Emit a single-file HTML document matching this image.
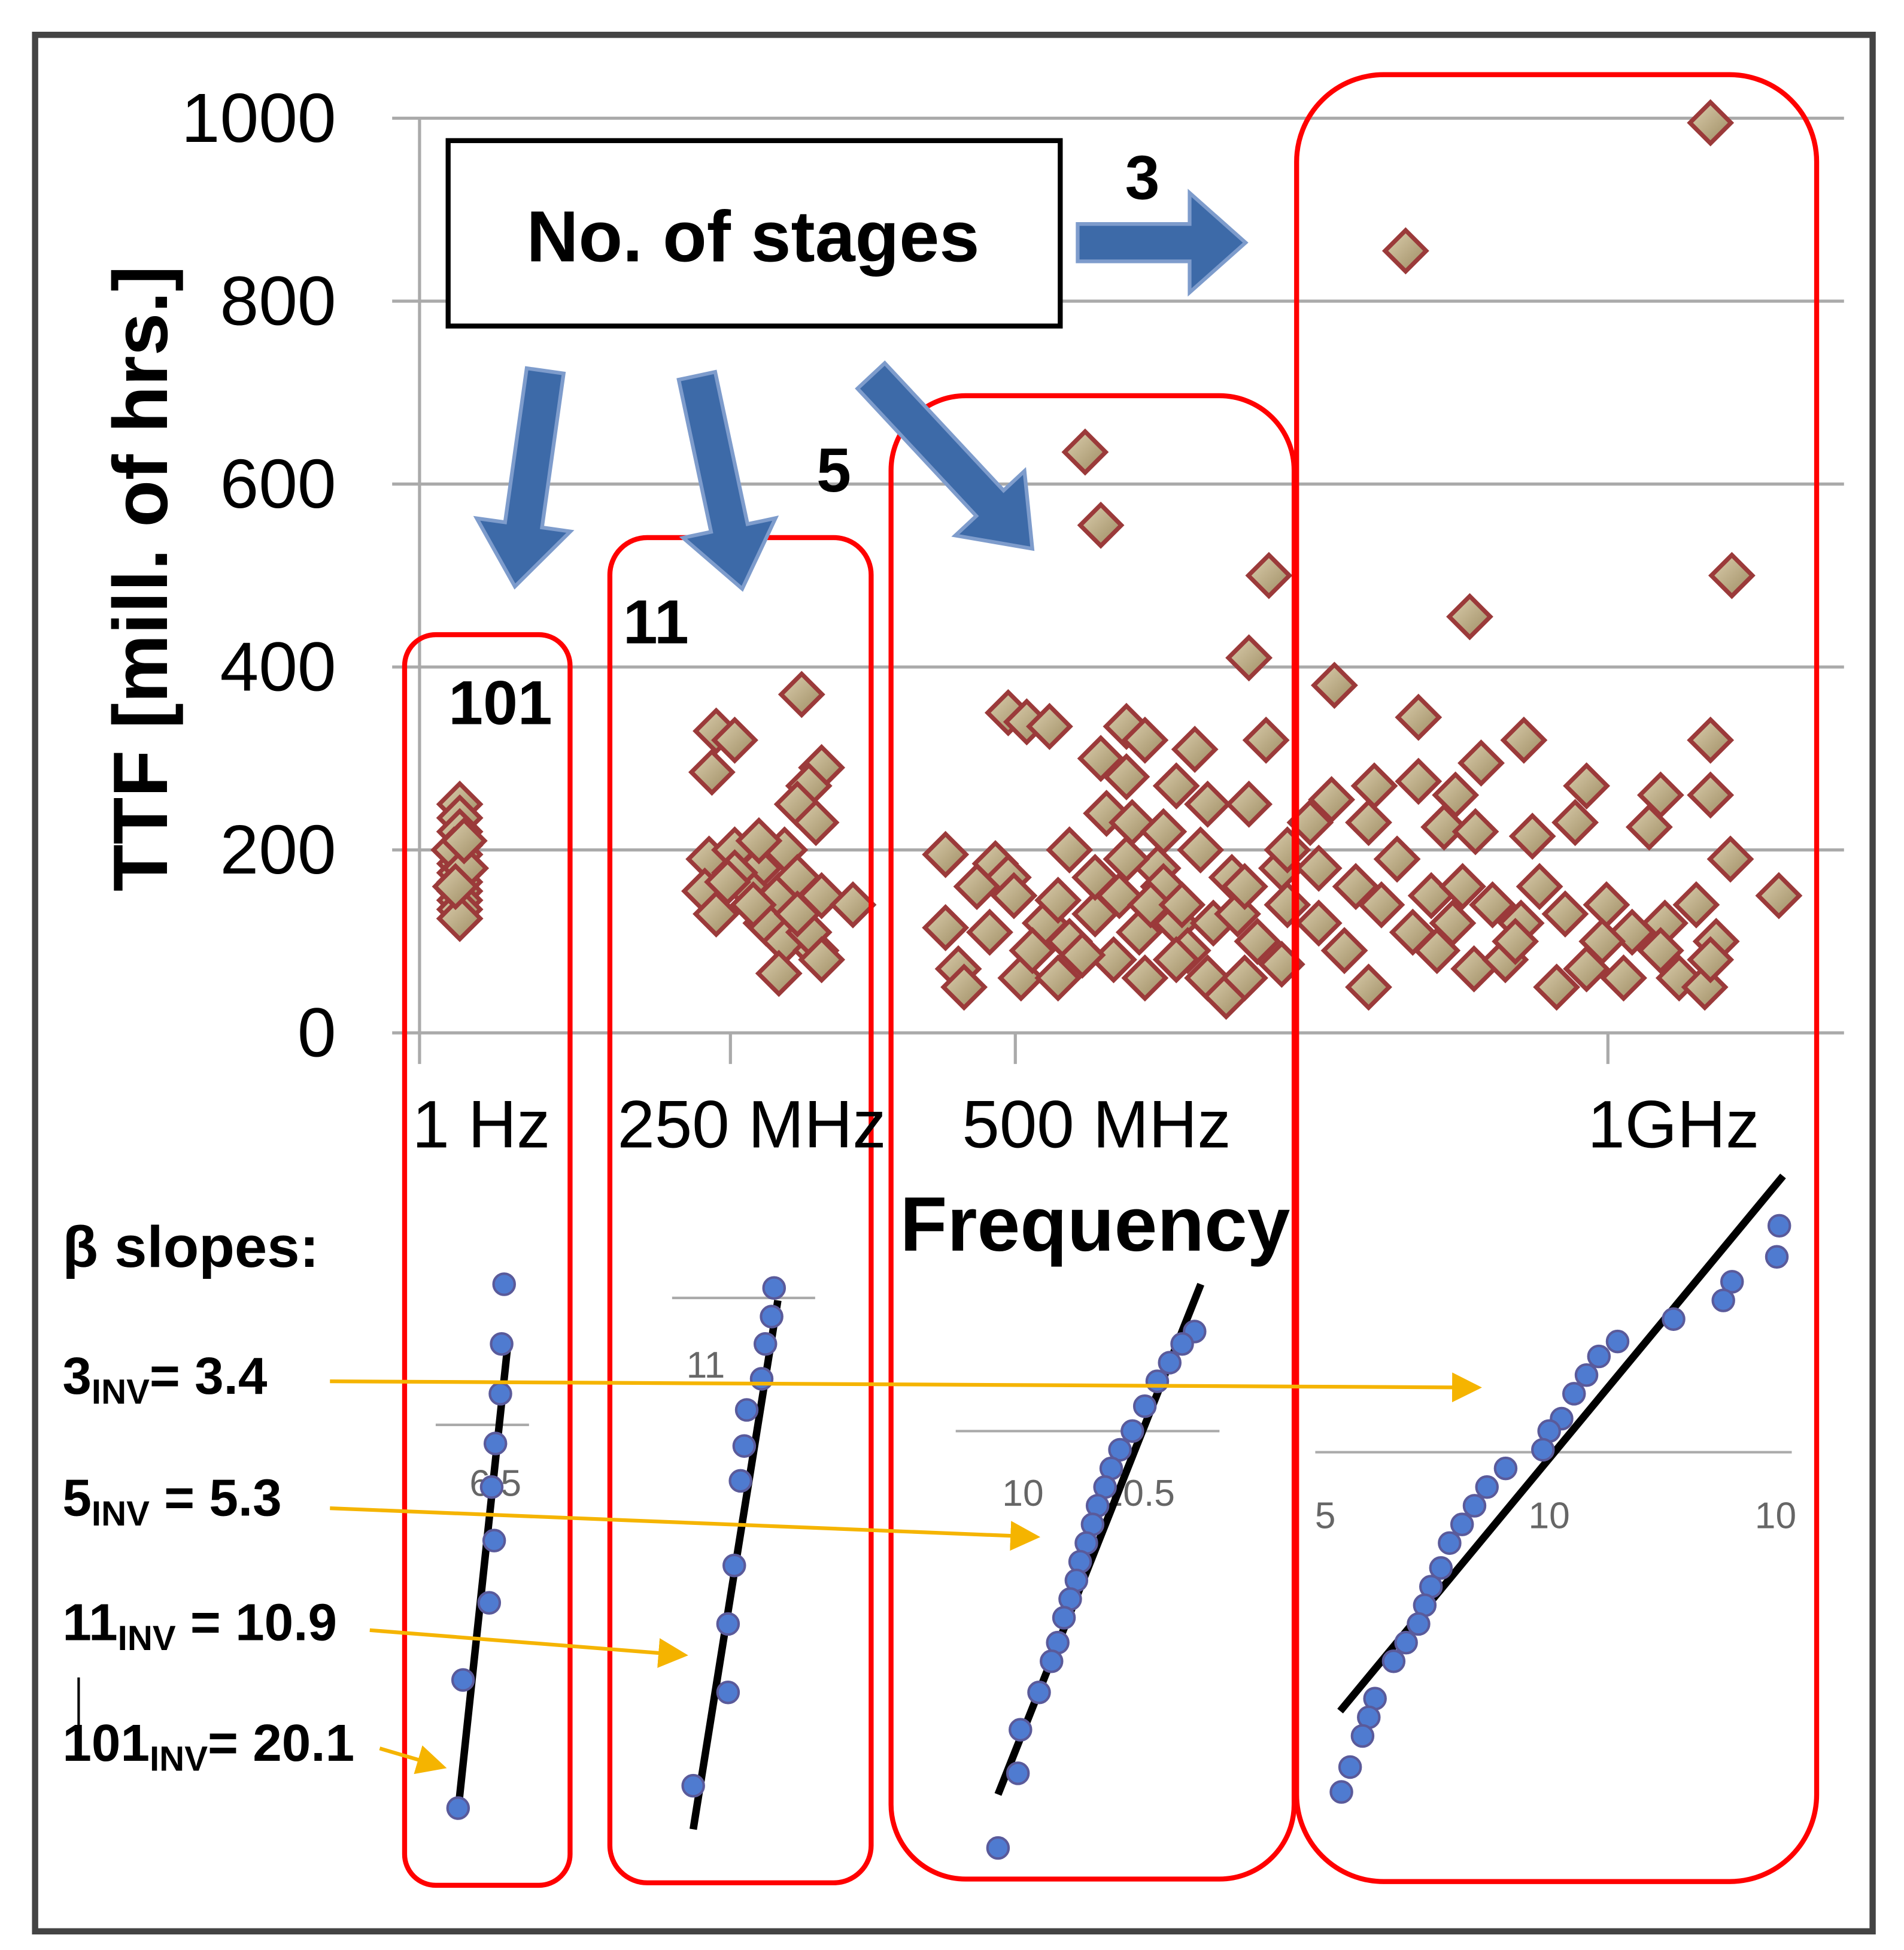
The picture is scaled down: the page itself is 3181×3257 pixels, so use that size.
<!DOCTYPE html>
<html><head><meta charset="utf-8">
<style>
html,body{margin:0;padding:0;background:#fff;}
svg{display:block;}
text{font-family:"Liberation Sans",sans-serif;}
</style></head>
<body>
<svg id="chart" width="3181" height="3257" viewBox="0 0 1530 1567" xmlns="http://www.w3.org/2000/svg">
<defs>
<linearGradient id="dg" x1="0" y1="0" x2="1" y2="1">
<stop offset="0" stop-color="#ddd0b0"/><stop offset="1" stop-color="#9c8a60"/></linearGradient>
<marker id="ya" markerWidth="8" markerHeight="8" refX="7" refY="4" orient="auto" markerUnits="strokeWidth">
<path d="M0,0 L8,4 L0,8 Z" fill="#f5b400"/></marker>
</defs>
<rect x="28" y="28" width="1477" height="1524" fill="none" stroke="#444" stroke-width="5"/>
<g id="grid"></g>
<g id="ylabels"></g>
<text transform="translate(134,465) rotate(-90)" text-anchor="middle" font-size="62" font-weight="bold">TTF [mill. of hrs.]</text>
<g id="points"></g>
<g fill="none" stroke="#f00" stroke-width="4">
<rect x="325" y="510" width="133" height="1005" rx="25"/>
<rect x="490" y="432" width="210" height="1081" rx="30"/>
<rect x="716" y="318" width="324" height="1192" rx="60"/>
<rect x="1042" y="60" width="418" height="1452" rx="70"/>
</g>
<rect x="360" y="113" width="492" height="149" fill="#fff" stroke="#000" stroke-width="4"/>
<text x="605" y="210" text-anchor="middle" font-size="58" font-weight="bold">No. of stages</text>
<g fill="#3d6aa8" stroke="#7e9ccc" stroke-width="3">
<polygon points="0,-15 90,-15 90,-40 135,0 90,40 90,15 0,15" transform="translate(866,195)"/>
<polygon points="0,-15 125,-15 125,-38 175,0 125,38 125,15 0,15" transform="translate(438,298) rotate(98)"/>
<polygon points="0,-15 125,-15 125,-38 175,0 125,38 125,15 0,15" transform="translate(560,302) rotate(78)"/>
<polygon points="0,-15 140,-15 140,-38 190,0 140,38 140,15 0,15" transform="translate(700,302) rotate(47)"/>
</g>
<text x="918" y="160" text-anchor="middle" font-size="50" font-weight="bold">3</text>
<text x="670" y="395" text-anchor="middle" font-size="50" font-weight="bold">5</text>
<text x="527" y="517" text-anchor="middle" font-size="50" font-weight="bold">11</text>
<text x="402" y="582" text-anchor="middle" font-size="50" font-weight="bold">101</text>
<g id="xlabels" font-size="54"></g>
<text x="880" y="1005" text-anchor="middle" font-size="62" font-weight="bold">Frequency</text>
<text x="50" y="1018" font-size="47" font-weight="bold">β slopes:</text>
<g font-size="42" font-weight="bold">
<text x="50" y="1120">3<tspan font-size="28" dy="8">INV</tspan><tspan dy="-8">= 3.4</tspan></text>
<text x="50" y="1218">5<tspan font-size="28" dy="8">INV</tspan><tspan dy="-8"> = 5.3</tspan></text>
<text x="50" y="1318">11<tspan font-size="28" dy="8">INV</tspan><tspan dy="-8"> = 10.9</tspan></text>
<text x="50" y="1415">101<tspan font-size="28" dy="8">INV</tspan><tspan dy="-8">= 20.1</tspan></text>
</g>
<line x1="63" y1="1348" x2="63" y2="1392" stroke="#000" stroke-width="2"/>
<g stroke="#aaa" stroke-width="2">
<line x1="350" y1="1145" x2="425" y2="1145"/><line x1="540" y1="1043" x2="655" y2="1043"/>
<line x1="768" y1="1150" x2="980" y2="1150"/><line x1="1057" y1="1167" x2="1440" y2="1167"/>
</g>
<g font-size="30" fill="#666" text-anchor="middle">
<text x="398" y="1202">6.5</text><text x="567" y="1107">11</text><text x="822" y="1210">10</text><text x="915" y="1210">10.5</text>
<text x="1065" y="1228">5</text><text x="1245" y="1228">10</text><text x="1427" y="1228">10</text>
</g>
<g id="weibull"></g>
<g stroke="#f5b400" stroke-width="3" fill="none">
<line x1="265" y1="1110" x2="1188" y2="1115" marker-end="url(#ya)"/>
<line x1="265" y1="1212" x2="833" y2="1235" marker-end="url(#ya)"/>
<line x1="297" y1="1310" x2="550" y2="1330" marker-end="url(#ya)"/>
<line x1="305" y1="1405" x2="356" y2="1420" marker-end="url(#ya)"/>
</g>
</svg>
<script>
// ---- chart data ----
const yTicks = [0,200,400,600,800,1000];
const xTickLabels = ["1 Hz","250 MHz","500 MHz","1GHz"];
const xTickPos = [4,22,42,83.6];   // category positions in x units
const xLabelPos = [4.5,23.5,47.7,88.2];
const ttfX = [3,3,3,3,3,3,3,3,3,3,3,3,2.6,3.4,2.7,3.3,
 21,22.3,20.7,27,28.4,27.5,26.7,28,20.5,22.3,24,23.1,25.8,25.4,26.7,28.4,30.6,20.2,21,24.5,25.8,28,25.4,27.5,23.6,22.3,28.4,24,26.7,21.8,
 46.9,48,59.8,58.4,59.6,41.5,42.8,44.4,49.8,51.1,54.6,48,49.8,53.3,55.5,58.4,45.8,48.4,50.2,52.4,37.1,40.6,41.5,39.3,41.9,37.1,38,38.4,42.4,45,45.8,47.6,49.3,52,53.3,54.1,55.5,56.8,58.1,59,60.7,61.1,60.7,57.2,55,52.4,50.7,48.9,46.7,44.1,45,47.6,49.8,51.5,53.7,55.9,57.6,61.1,40.2,43.2,51.1,53.3,58.1,
 90.8,69.4,92.3,73.9,64.4,70.3,77.7,90.8,74.7,67.2,70.3,72.9,82.1,87.3,90.8,64.2,62.7,66.8,72.1,74.3,78.3,81.3,86.5,92.2,95.6,63.3,65.9,68.8,71.2,73.4,75.5,78.8,77.5,80.6,83.5,85.3,87.6,89.8,91.2,63.3,65.1,66.8,69.9,71.6,74.2,76.4,80,82.1,84.7,87.3,88.6,90.4,90.8,67.7,72.7,77.1,83.2];
const ttfY = [250,235,220,205,195,185,175,165,155,145,135,125,200,180,160,210,
 330,320,285,370,290,270,250,230,190,200,180,160,200,150,170,150,140,155,130,120,100,90,65,110,140,175,80,210,130,165,
 635,555,500,410,320,350,340,335,335,320,310,300,280,270,250,250,200,240,230,220,195,185,170,160,150,115,70,50,60,60,100,130,150,180,120,90,60,40,60,100,75,140,180,170,200,160,110,80,85,120,145,170,190,140,140,120,130,200,110,90,60,80,160,
 995,855,500,455,380,345,320,320,295,270,275,260,270,260,260,255,230,230,225,220,215,230,225,190,150,180,160,190,150,160,140,160,120,130,140,110,120,140,100,120,90,50,110,90,70,80,50,70,60,90,60,50,80,140,120,100,100];
// Weibull probability-plot points (pixel-space mini plots)
const wbX1=[405,403,402,398,395,397,393,372,368], wbY1=[1032,1080,1120,1160,1195,1238,1288,1350,1453];
const wbX2=[622,620,615,612,600,598,595,590,585,585,557], wbY2=[1035,1058,1080,1108,1133,1162,1190,1258,1305,1360,1435];
const wbX3=[960,950,940,930,920,910,900,893,888,882,878,873,868,865,860,855,850,845,835,820,818,802];
const wbY3=[1070,1080,1095,1110,1130,1150,1165,1180,1195,1210,1225,1240,1255,1270,1285,1300,1320,1335,1360,1390,1425,1485];
const wbX4=[1430,1428,1392,1385,1345,1300,1285,1275,1265,1255,1245,1240,1210,1195,1185,1175,1165,1158,1150,1145,1140,1130,1120,1105,1100,1095,1085,1078];
const wbY4=[985,1010,1030,1045,1060,1078,1090,1105,1120,1140,1150,1165,1180,1195,1210,1225,1240,1260,1275,1290,1305,1320,1335,1365,1380,1395,1420,1440];
const fitLines=[[368,1455,408,1080],[557,1470,625,1045],[802,1442,965,1032],[1077,1375,1433,945]];

// ---- axes ----
const NS="http://www.w3.org/2000/svg";
const yS=v=>830-v*0.735;
const xS=v=>335+v*11.45;
function mk(tag,attrs,parent){const e=document.createElementNS(NS,tag);for(const k in attrs)e.setAttribute(k,attrs[k]);parent.appendChild(e);return e;}
const grid=document.getElementById('grid');
yTicks.forEach(t=>{
 const l=mk('line',{x1:315,x2:1482,y1:yS(t),y2:yS(t),stroke:'#aaa','stroke-width':2.5},grid);
 
 
 const tx=mk('text',{x:270,y:yS(t)+19,'text-anchor':'end','font-size':56},document.getElementById('ylabels'));
 tx.textContent=t;
 
 
});
const ax=mk('line',{x1:337,x2:337,y1:95,y2:855,stroke:'#aaa','stroke-width':2.5},grid);


xTickPos.forEach((p,i)=>{
 if(i>0){const t=mk('line',{x1:xS(p),x2:xS(p),y1:830,y2:855,stroke:'#aaa','stroke-width':2.5},grid);
 
 }
 const tx=mk('text',{x:xS(xLabelPos[i]),y:922,'text-anchor':'middle'},document.getElementById('xlabels'));
 tx.textContent=xTickLabels[i];
 
 
});
const pg=document.getElementById('points');
ttfX.forEach((xv,i)=>{
 const cx=xS(xv),cy=yS(ttfY[i]),r=16.5;
 const d=mk('polygon',{points:`${cx},${cy-r} ${cx+r},${cy} ${cx},${cy+r} ${cx-r},${cy}`,fill:'url(#dg)',stroke:'#9b3a3a','stroke-width':3.5},pg);
 
 
});
const wg=document.getElementById('weibull');
fitLines.forEach(f=>{
 const l=mk('line',{x1:f[0],y1:f[1],x2:f[2],y2:f[3],stroke:'#000','stroke-width':6},wg);
 
 
});
[[wbX1,wbY1],[wbX2,wbY2],[wbX3,wbY3],[wbX4,wbY4]].forEach(([xs,ys])=>{
 xs.forEach((x,i)=>{
  const c=mk('circle',{cx:x,cy:ys[i],r:8.5,fill:'#4f7bd0',stroke:'#5a5a9a','stroke-width':2},wg);
  
  
 });
});
</script>
</body></html>
